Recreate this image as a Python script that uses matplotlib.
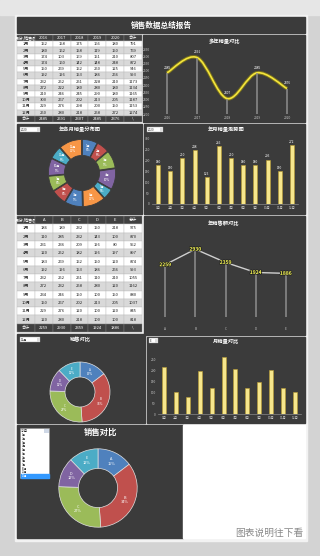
import numpy as np
import matplotlib.pyplot as plt
from matplotlib.patches import Rectangle, PathPatch
from matplotlib.path import Path
import matplotlib.patheffects as pe

plt.rcParams['font.family'] = ['Noto Sans CJK SC', 'DejaVu Sans']

# ---- data ----
months = ['1月', '2月', '3月', '4月', '5月', '6月', '7月', '8月', '9月', '10月', '11月', '12月']
years = ['2016', '2017', '2018', '2019', '2020']
sales_2016 = [152, 180, 174, 174, 150, 192, 232, 272, 210, 300, 229, 250]
sales_2017 = [158, 162, 103, 160, 269, 196, 252, 222, 246, 267, 276, 280]
sales_2018 = [175, 158, 169, 142, 152, 153, 251, 180, 245, 202, 298, 218]
sales_2019 = [166, 119, 151, 148, 250, 186, 228, 280, 290, 213, 200, 258]
sales_2020 = [180, 150, 210, 248, 125, 266, 210, 180, 180, 205, 150, 272]
month_totals_1 = [791, 769, 807, 872, 946, 993, 1173, 1134, 1165, 1187, 1153, 1274]
year_totals = [2485, 2591, 2307, 2485, 2376]

groups = ['A', 'B', 'C', 'D', 'E']
grp_a = [186, 110, 231, 120, 183, 192, 232, 272, 234, 150, 229, 120]
grp_b = [189, 285, 236, 252, 269, 196, 252, 232, 246, 267, 276, 280]
grp_c = [232, 232, 209, 182, 152, 153, 251, 258, 150, 202, 120, 218]
grp_d = [150, 143, 196, 196, 150, 186, 110, 280, 100, 213, 100, 100]
grp_e = [218, 100, 80, 197, 120, 266, 210, 120, 150, 205, 120, 100]
month_totals_2 = [975, 870, 952, 897, 874, 993, 1055, 1162, 880, 1037, 845, 818]
grp_totals = [2259, 2930, 2359, 1924, 1886]

dec_by_group = [grp_a[11], grp_b[11], grp_c[11], grp_d[11], grp_e[11]]

# ---- figure / helpers ----
W, H = 320, 556
fig = plt.figure(figsize=(W / 100, H / 100), dpi=100, facecolor='#d3d3d3')

DARK = '#3b3b3b'
PIE6 = ['#4f81bd', '#c0504d', '#9bbb59', '#8064a2', '#4bacc6', '#f79646']
TXT = '#c8c8c8'


def px_axes(x0, y0, x1, y1):
    return fig.add_axes([x0 / W, 1 - y1 / H, (x1 - x0) / W, (y1 - y0) / H])


bg = fig.add_axes([0, 0, 1, 1])
bg.set_xlim(0, W)
bg.set_ylim(H, 0)
bg.axis('off')

# sheet and panels
bg.add_patch(Rectangle((0, 0), W, 15, color='#e6e6e6'))
bg.add_patch(Rectangle((15, 15), 292, 526, color='#f2f2f2'))
panels = [(17, 17, 305, 33), (143, 35, 305, 122), (17, 124, 142, 214),
          (144, 124, 305, 214), (144, 216, 305, 335), (17, 334, 145, 423),
          (147, 337, 305, 423), (17, 425, 183, 538)]
for x0, y0, x1, y1 in panels:
    bg.add_patch(Rectangle((x0, y0), x1 - x0, y1 - y0, color=DARK))
bg.add_patch(Rectangle((183, 425), 122, 113, color='white'))

bg.text(161, 25.5, '销售数据总结报告', color='white', fontsize=5.5,
        fontweight='bold', ha='center', va='center')

titles = [(224, 42, '多年销量对比'), (80, 130, '年各月销量分布图'),
          (226, 130, '年月销量走势图'), (224, 224, '年销售额对比'),
          (80, 340, '销售对比'), (226, 341, '月销量对比')]
for x, y, t in titles:
    bg.text(x, y, t, color='white', fontsize=3.8, fontweight='bold',
            ha='center', va='center')
bg.text(101, 432, '销售对比', color='white', fontsize=6, fontweight='bold',
        ha='center', va='center')


def dropdown(x, y, w, label):
    bg.add_patch(Rectangle((x, y), w, 5, facecolor='white', edgecolor='#999999', lw=0.3))
    bg.add_patch(Rectangle((x + w - 3.5, y + 0.5), 3, 4, facecolor='#dddddd', lw=0))
    bg.text(x + 1, y + 2.6, label, fontsize=2.2, color='#333333', va='center')


dropdown(20, 127, 20, '2020')
dropdown(147, 127, 16, '2020')
dropdown(20, 337, 20, '12月')
dropdown(149, 338, 9, 'E')

# open dropdown list bottom-left
bg.add_patch(Rectangle((20, 428), 29, 50, facecolor='white', edgecolor='#888888', lw=0.4))
bg.add_patch(Rectangle((44, 428.5), 4.5, 4.5, facecolor='#cfd8e6', lw=0))
bg.text(21, 430.7, '12月', fontsize=2.4, color='#222222', va='center')
for i, m in enumerate(months):
    yy = 433.5 + i * 3.7
    if i == len(months) - 1:
        bg.add_patch(Rectangle((20.5, yy), 28, 3.7, color='#3399ff'))
    bg.text(21.5, yy + 1.85, m, fontsize=1.9, va='center',
            color='white' if i == len(months) - 1 else '#333333')

bg.text(303, 533, '图表说明往下看', fontsize=7, color='#8a8a8a', ha='right', va='center')


# ---- tables ----
def draw_table(box, head, rows, foot):
    ax = px_axes(*box)
    ax.axis('off')
    cells = [head] + rows + [foot]
    tb = ax.table(cellText=cells, bbox=[0, 0, 1, 1], cellLoc='center')
    tb.auto_set_font_size(False)
    tb.set_fontsize(3)
    n = len(cells)
    for (r, c), cell in tb.get_celld().items():
        cell.set_linewidth(0.3)
        if r == 0 or r == n - 1:
            cell.set_facecolor('#404040')
            cell.set_edgecolor('#808080')
            cell.get_text().set_color('white')
        else:
            cell.set_facecolor('white' if r % 2 == 1 else '#d9d9d9')
            cell.set_edgecolor('#bdbdbd')
            cell.get_text().set_color('#222222')
    return ax


cols1 = [sales_2016, sales_2017, sales_2018, sales_2019, sales_2020]
rows1 = [[m] + [str(c[i]) for c in cols1] + [str(month_totals_1[i])] for i, m in enumerate(months)]
draw_table((17, 35, 142, 122), ['月份\\销售额'] + years + ['合计'], rows1,
           ['合计'] + [str(v) for v in year_totals] + ['\\'])

cols2 = [grp_a, grp_b, grp_c, grp_d, grp_e]
rows2 = [[m] + [str(c[i]) for c in cols2] + [str(month_totals_2[i])] for i, m in enumerate(months)]
draw_table((17, 216, 142, 332), ['月份\\销售额'] + groups + ['总计'], rows2,
           ['合计'] + [str(v) for v in grp_totals] + ['\\'])

# ---- multi-year smooth line ----
ax = px_axes(152, 49, 302, 114)
ax.set_facecolor('none')
xs = np.arange(len(years))
ys = np.array(year_totals, dtype=float)
ax.set_xlim(-0.5, 4.5)
ax.set_ylim(2200, 2650)
P = np.column_stack([xs, ys])
verts = [P[0]]
codes = [Path.MOVETO]
for i in range(len(P) - 1):
    p0 = P[i - 1] if i > 0 else P[i]
    p3 = P[i + 2] if i + 2 < len(P) else P[i + 1]
    verts += [P[i] + (P[i + 1] - p0) / 6, P[i + 1] - (p3 - P[i]) / 6, P[i + 1]]
    codes += [Path.CURVE4] * 3
ax.vlines(xs, 2200, ys, color='#8c8c8c', lw=1.4, alpha=0.8)
ax.add_patch(PathPatch(Path(verts, codes), fill=False, edgecolor='#b8a800', lw=2.6, alpha=0.5))
ax.add_patch(PathPatch(Path(verts, codes), fill=False, edgecolor='#f4e53c', lw=1.2))
for x, y in zip(xs, ys):
    ax.annotate(str(int(y)), (x, y), xytext=(0, 3), textcoords='offset points',
                ha='center', fontsize=2.3, color='white')
ax.set_xticks(xs, years)
ax.set_yticks(np.arange(2200, 2651, 50))
ax.tick_params(length=0, labelsize=2.3, labelcolor=TXT, pad=1.5)
for s in ax.spines.values():
    s.set_visible(False)

# ---- month distribution donut ----
ax = px_axes(42, 133, 122, 213)
it = iter(months)
ax.pie(sales_2020, colors=PIE6 * 2, startangle=90, counterclock=False,
       explode=[0.05] * 12, wedgeprops=dict(width=0.5, edgecolor=DARK, lw=0.6),
       autopct=lambda p: f'{next(it)}\n{p:.0f}%', pctdistance=0.75,
       textprops=dict(color='white', fontsize=2.2))
ax.set_xlim(-1.25, 1.25)
ax.set_ylim(-1.25, 1.25)


# ---- bar charts ----
def bar_chart(box, vals, ymax, ticks, labels_on):
    ax = px_axes(*box)
    ax.set_facecolor('none')
    x = np.arange(len(months))
    bars = ax.bar(x, vals, width=0.34, color='#f6e68c', edgecolor='#b99b2f', lw=0.4)
    if labels_on:
        ax.bar_label(bars, padding=0.8, fontsize=2.3, color='white')
    ax.set_xlim(-0.5, 11.5)
    ax.set_ylim(0, ymax)
    ax.set_xticks(x, months)
    ax.set_yticks(ticks)
    ax.tick_params(length=0, labelsize=2.3, labelcolor=TXT, pad=1.5)
    for s in ['top', 'right', 'left']:
        ax.spines[s].set_visible(False)
    ax.spines['bottom'].set_color('#8a8a8a')
    ax.spines['bottom'].set_linewidth(0.5)


bar_chart((152, 135, 298, 204), sales_2020, 318, np.arange(0, 301, 50), True)
bar_chart((158, 355, 301, 414), grp_e, 273, np.arange(0, 251, 50), False)

# ---- yearly group totals line ----
ax = px_axes(150, 236, 301, 317)
ax.set_facecolor('none')
xg = np.arange(len(groups))
ax.set_xlim(-0.5, 4.5)
ax.set_ylim(0, 3500)
ax.vlines(xg, 0, grp_totals, color='#8c8c8c', lw=1.4, alpha=0.8)
ax.plot(xg, grp_totals, color='#cfcfcf', lw=1.0)
for x, y in zip(xg, grp_totals):
    ax.text(x, y, str(y), ha='center', va='center', fontsize=3.6, fontweight='bold',
            color='#ffff55', path_effects=[pe.withStroke(linewidth=1.0, foreground='#222222')])
ax.set_xticks(xg, groups)
ax.set_yticks([])
ax.tick_params(length=0, labelsize=2.3, labelcolor=TXT, pad=7)
for s in ax.spines.values():
    s.set_visible(False)


# ---- group donuts (December) ----
def group_donut(box, fs):
    ax = px_axes(*box)
    it = iter(groups)
    ax.pie(dec_by_group, colors=PIE6[:5], startangle=90, counterclock=False,
           wedgeprops=dict(width=0.5, edgecolor='#e0e0e0', lw=0.5),
           autopct=lambda p: f'{next(it)}\n{p:.0f}%', pctdistance=0.75,
           textprops=dict(color='white', fontsize=fs))
    ax.set_xlim(-1.25, 1.25)
    ax.set_ylim(-1.25, 1.25)


group_donut((42.5, 354.5, 117.5, 429.5), 2.2)
group_donut((49, 439, 147, 537), 2.8)

fig.savefig('out.png', dpi=100, facecolor=fig.get_facecolor())
